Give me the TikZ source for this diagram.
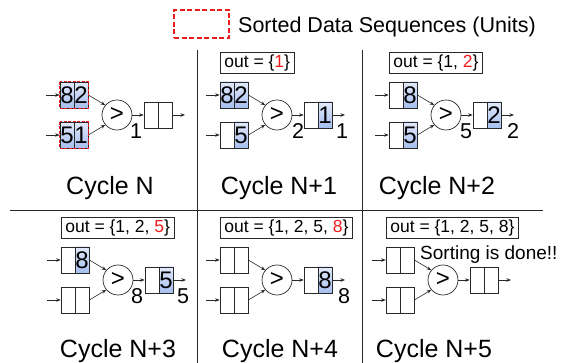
\documentclass[tikz,border=0pt]{standalone}
\usepackage{fontspec}
\setmainfont{Liberation Sans}
\usetikzlibrary{arrows.meta}
\definecolor{ublueT}{RGB}{226,234,251}
\definecolor{ublueB}{RGB}{166,190,239}
\definecolor{seqred}{RGB}{238,28,28}
\definecolor{inkgray}{RGB}{40,40,40}
\begin{document}
\begin{tikzpicture}[x=1pt,y=-1pt,
  cellhalf/.style={draw=inkgray, line width=0.7pt, minimum width=14pt, minimum height=26pt,
    inner sep=0pt, font=\fontsize{24}{24}\selectfont, fill=white},
  cellblue/.style={cellhalf, top color=ublueT, bottom color=ublueB},
  cmpnode/.style={circle, draw=inkgray, line width=0.7pt, minimum size=30pt, inner sep=0pt,
    font=\fontsize{24}{24}\selectfont},
  flow/.style={-{Stealth[length=4.5pt,width=3.5pt]}, line width=0.6pt, inkgray},
  valnum/.style={font=\fontsize{21.5}{22}\selectfont, inner sep=0pt, anchor=base},
  outbox/.style={draw=inkgray, line width=0.7pt, anchor=west, minimum height=21pt,
    inner xsep=4pt, inner ysep=0pt, font=\fontsize{17.5}{18}\selectfont},
  cyclabel/.style={font=\fontsize{25}{25}\selectfont, inner sep=0pt, anchor=base},
  unitmark/.style={draw=seqred, line width=1.2pt, dash pattern=on 3pt off 1.5pt},
  divider/.style={draw=inkgray, line width=0.8pt},
]
\useasboundingbox (0,0) rectangle (566,363);

% legend
\node[draw=seqred, line width=1.3pt, dash pattern=on 5pt off 2.5pt, minimum width=55pt,
  minimum height=28pt, inner sep=0pt] (legbox) at (201.5,24) {};
\node[anchor=base west, inner sep=0pt, font=\fontsize{21.5}{22}\selectfont] (legtext) at (238,33)
  {Sorted Data Sequences (Units)};

% panel dividers
\draw[divider] (197,50) -- (197,363);
\draw[divider] (362,50) -- (362,363);
\draw[divider] (10,210) -- (543,210);

% ---------- Cycle N ----------
\node[cellblue] (n1ta) at (67,95) {8};
\node[cellblue] (n1tb) at (81,95) {2};
\node[cellblue] (n1ba) at (67,135) {5};
\node[cellblue] (n1bb) at (81,135) {1};
\node[cmpnode] (n1c) at (117,115) {>};
\node[cellhalf] (n1oa) at (151,115) {};
\node[cellhalf] (n1ob) at (165,115) {};
\coordinate (n1i1) at (46,95);
\coordinate (n1i2) at (46,135);
\coordinate (n1o) at (185,115);
\draw[flow] (n1i1) -- (n1ta);
\draw[flow] (n1i2) -- (n1ba);
\draw[flow] (n1tb.east) -- (n1c.140);
\draw[flow] (n1bb.east) -- (n1c.220);
\draw[flow] (n1c) -- (n1oa);
\draw[flow] (n1ob) -- (n1o);
\draw[unitmark] (n1ta.north west) rectangle (n1tb.south east);
\draw[unitmark] (n1ba.north west) rectangle (n1bb.south east);
\node[valnum] (n1v) at (136,139) {1};
\node[cyclabel] (n1lab) at (110,195) {Cycle N};

% ---------- Cycle N+1 ----------
\begin{scope}[shift={(160,0)}]
\node[outbox] (n2out) at (60,63) {out = \{\textcolor{seqred}{1}\}};
\node[cellblue] (n2ta) at (67,95) {8};
\node[cellblue] (n2tb) at (81,95) {2};
\node[cellhalf] (n2ba) at (67,135) {};
\node[cellblue] (n2bb) at (81,135) {5};
\node[cmpnode] (n2c) at (117,115) {>};
\node[cellhalf] (n2oa) at (151,115) {};
\node[cellblue] (n2ob) at (165,115) {1};
\coordinate (n2i1) at (46,95);
\coordinate (n2i2) at (46,135);
\coordinate (n2o) at (185,115);
\draw[flow] (n2i1) -- (n2ta);
\draw[flow] (n2i2) -- (n2ba);
\draw[flow] (n2tb.east) -- (n2c.140);
\draw[flow] (n2bb.east) -- (n2c.220);
\draw[flow] (n2c) -- (n2oa);
\draw[flow] (n2ob) -- (n2o);
\node[valnum] (n2v) at (138,139) {2};
\node[valnum] (n2r) at (182,139) {1};
\end{scope}
\node[cyclabel] (n2lab) at (279,195) {Cycle N+1};

% ---------- Cycle N+2 ----------
\begin{scope}[shift={(329,0)}]
\node[outbox] (n3out) at (60,63) {out = \{1, \textcolor{seqred}{2}\}};
\node[cellhalf] (n3ta) at (67,95) {};
\node[cellblue] (n3tb) at (81,95) {8};
\node[cellhalf] (n3ba) at (67,135) {};
\node[cellblue] (n3bb) at (81,135) {5};
\node[cmpnode] (n3c) at (117,115) {>};
\node[cellhalf] (n3oa) at (151,115) {};
\node[cellblue] (n3ob) at (165,115) {2};
\coordinate (n3i1) at (46,95);
\coordinate (n3i2) at (46,135);
\coordinate (n3o) at (185,115);
\draw[flow] (n3i1) -- (n3ta);
\draw[flow] (n3i2) -- (n3ba);
\draw[flow] (n3tb.east) -- (n3c.140);
\draw[flow] (n3bb.east) -- (n3c.220);
\draw[flow] (n3c) -- (n3oa);
\draw[flow] (n3ob) -- (n3o);
\node[valnum] (n3v) at (137,139) {5};
\node[valnum] (n3r) at (184,139) {2};
\end{scope}
\node[cyclabel] (n3lab) at (437,195) {Cycle N+2};

% ---------- Cycle N+3 ----------
\begin{scope}[shift={(1,165)}]
\node[outbox] (n4out) at (60,63) {out = \{1, 2, \textcolor{seqred}{5}\}};
\node[cellhalf] (n4ta) at (67,95) {};
\node[cellblue] (n4tb) at (81,95) {8};
\node[cellhalf] (n4ba) at (67,135) {};
\node[cellhalf] (n4bb) at (81,135) {};
\node[cmpnode] (n4c) at (117,115) {>};
\node[cellhalf] (n4oa) at (151,115) {};
\node[cellblue] (n4ob) at (165,115) {5};
\coordinate (n4i1) at (46,95);
\coordinate (n4i2) at (46,135);
\coordinate (n4o) at (185,115);
\draw[flow] (n4i1) -- (n4ta);
\draw[flow] (n4i2) -- (n4ba);
\draw[flow] (n4tb.east) -- (n4c.140);
\draw[flow] (n4bb.east) -- (n4c.220);
\draw[flow] (n4c) -- (n4oa);
\draw[flow] (n4ob) -- (n4o);
\node[valnum] (n4v) at (136,139) {8};
\node[valnum] (n4r) at (182,139) {5};
\end{scope}
\node[cyclabel] (n4lab) at (118,358) {Cycle N+3};

% ---------- Cycle N+4 ----------
\begin{scope}[shift={(160,165)}]
\node[outbox] (n5out) at (60,63) {out = \{1, 2, 5, \textcolor{seqred}{8}\}};
\node[cellhalf] (n5ta) at (67,95) {};
\node[cellhalf] (n5tb) at (81,95) {};
\node[cellhalf] (n5ba) at (67,135) {};
\node[cellhalf] (n5bb) at (81,135) {};
\node[cmpnode] (n5c) at (117,115) {>};
\node[cellhalf] (n5oa) at (151,115) {};
\node[cellblue] (n5ob) at (165,115) {8};
\coordinate (n5i1) at (46,95);
\coordinate (n5i2) at (46,135);
\coordinate (n5o) at (185,115);
\draw[flow] (n5i1) -- (n5ta);
\draw[flow] (n5i2) -- (n5ba);
\draw[flow] (n5tb.east) -- (n5c.140);
\draw[flow] (n5bb.east) -- (n5c.220);
\draw[flow] (n5c) -- (n5oa);
\draw[flow] (n5ob) -- (n5o);
\node[valnum] (n5r) at (184,139) {8};
\end{scope}
\node[cyclabel] (n5lab) at (280,358) {Cycle N+4};

% ---------- Cycle N+5 ----------
\begin{scope}[shift={(326,165)}]
\node[outbox] (n6out) at (60,63) {out = \{1, 2, 5, 8\}};
\node[cellhalf] (n6ta) at (67,95) {};
\node[cellhalf] (n6tb) at (81,95) {};
\node[cellhalf] (n6ba) at (67,135) {};
\node[cellhalf] (n6bb) at (81,135) {};
\node[cmpnode] (n6c) at (117,115) {>};
\node[cellhalf] (n6oa) at (151,115) {};
\node[cellhalf] (n6ob) at (165,115) {};
\coordinate (n6i1) at (46,95);
\coordinate (n6i2) at (46,135);
\coordinate (n6o) at (185,115);
\draw[flow] (n6i1) -- (n6ta);
\draw[flow] (n6i2) -- (n6ba);
\draw[flow] (n6tb.east) -- (n6c.140);
\draw[flow] (n6bb.east) -- (n6c.220);
\draw[flow] (n6c) -- (n6oa);
\draw[flow] (n6ob) -- (n6o);
\end{scope}
\node[anchor=base west, inner sep=0pt, font=\fontsize{19}{20}\selectfont] (done) at (420,260)
  {Sorting is done!!};
\node[cyclabel] (n6lab) at (434,358) {Cycle N+5};

\end{tikzpicture}
\end{document}
